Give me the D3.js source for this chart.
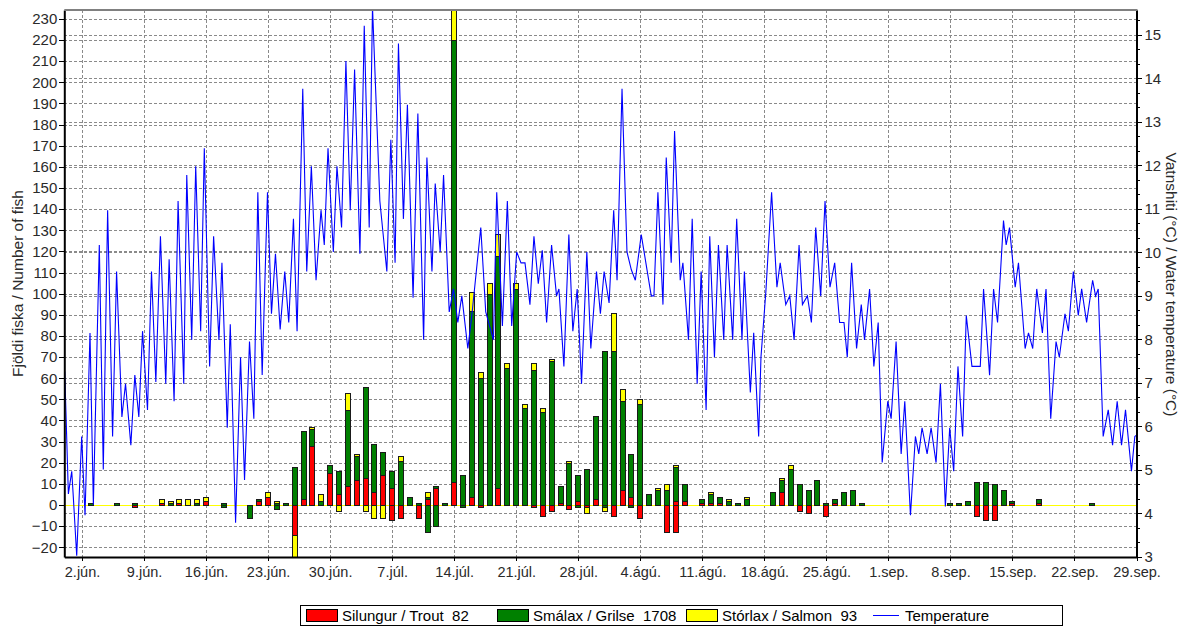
<!DOCTYPE html>
<html><head><meta charset="utf-8">
<script src="https://cdn.jsdelivr.net/npm/d3@7"></script>
<style>
body{margin:0;background:#fff;}
svg text{font-family:"Liberation Sans",Arial,sans-serif;}
</style>
</head><body>
<svg id="c" width="1193" height="627"></svg>
<script>
// ---------- DATA ----------
const barDates = ["06-03","06-06","06-08","06-11","06-12","06-13","06-14","06-15","06-16","06-18","06-21","06-22","06-23","06-24","06-25","06-26","06-27","06-28","06-29","06-30",
"07-01","07-02","07-03","07-04","07-05","07-06","07-07","07-08","07-09","07-10","07-11","07-12","07-13","07-14","07-15","07-16","07-17","07-18","07-19","07-20",
"07-21","07-22","07-23","07-24","07-25","07-26","07-27","07-28","07-29","07-30","07-31","08-01","08-02","08-03","08-04","08-05","08-06","08-07","08-08","08-09",
"08-11","08-12","08-13","08-14","08-15","08-16","08-19","08-20","08-21","08-22","08-23","08-24","08-25","08-26","08-27","08-28","08-29",
"09-08","09-09","09-10","09-11","09-12","09-13","09-14","09-15","09-18","09-24"];
// fish going up (positive)
const trout  = [0,0,0,1,0,1,0,0,2,0,0,2,4,0,0,0,3,28,0,15, 5,9,12,13,6,14,8,0,0,0,3,8,0,11,0,4,0,0,8,0, 0,0,0,0,0,1,0,2,0,3,0,0,7,4,0,0,0,0,2,2, 1,1,1,0,0,0,0,6,0,0,0,0,0,1,0,0,0, 0,0,0,0,0,0,0,1,1,0];
const grilse = [1,1,1,0,1,0,0,1,0,1,0,1,0,1,1,18,32,8,2,4, 11,36,11,43,23,11,8,21,4,1,1,1,1,209,14,88,60,100,110,65, 102,46,64,44,68,8,20,12,17,39,73,73,42,20,48,5,7,7,16,8, 2,4,3,2,1,3,6,6,17,10,7,12,1,2,6,7,1, 1,1,2,11,11,10,7,1,2,1];
const salmon = [0,0,0,2,1,2,3,2,2,0,0,0,2,1,0,0,0,1,3,0, 0,8,1,0,0,0,0,2,0,0,2,0,0,16,0,9,3,5,10,2, 3,2,3,2,1,0,1,0,0,0,0,18,6,0,2,0,1,3,1,0, 0,1,0,1,0,1,0,1,2,0,0,0,0,0,0,0,0, 0,0,0,0,0,0,0,0,0,0];
// fish going down (drawn below zero)
const troutDown  = [0,0,1,0,0,0,0,0,0,0,0,0,0,0,0,14,0,0,0,0, 0,0,0,0,0,0,7,6,0,6,0,0,0,0,0,0,1,0,0,0, 0,0,1,5,3,0,2,0,1,0,0,5,0,0,6,0,0,13,13,0, 0,0,0,0,0,0,0,0,0,3,4,0,5,0,0,0,0, 0,0,0,5,7,7,0,0,0,0];
const grilseDown = [0,0,0,0,0,0,0,0,0,1,6,0,0,2,0,0,0,0,0,0, 0,0,0,0,0,0,0,0,0,0,13,10,0,0,1,0,0,0,0,0, 0,0,0,0,0,0,0,1,0,0,1,0,0,1,0,0,0,0,0,0, 0,0,0,0,0,0,0,0,0,0,0,0,0,0,0,0,0, 0,0,0,0,0,0,0,0,0,0];
const salmonDown = [0,0,0,0,0,0,0,0,0,0,0,0,0,0,0,12,0,0,0,0, 3,0,0,3,6,6,0,0,0,0,0,0,0,0,0,0,0,0,0,0, 0,0,0,0,0,0,0,0,3,0,2,0,0,0,0,0,0,0,0,0, 0,0,0,0,0,0,0,0,0,0,0,0,0,0,0,0,0, 0,0,0,0,0,0,0,0,0,0];

// water temperature: days after 31 May 00:00, °C
const tempDay = [0.05,0.46,0.84,1.02,1.40,1.96,2.34,2.90,3.28,3.95,4.40,4.89,5.45,5.90,6.50,6.91,7.51,7.96,8.41,8.83,9.39,9.84,10.33,10.85,11.45,11.83,12.39,12.84,13.48,13.82,14.38,14.83,15.39,15.80,16.40,16.85,17.45,17.79,18.39,18.73,19.33,19.89,20.34,20.90,21.39,21.84,22.33,22.93,23.38,23.83,24.36,24.88,25.33,25.86,26.27,26.91,27.36,27.88,28.41,28.97,29.34,29.76,30.36,30.77,31.29,31.78,32.27,32.76,33.36,33.85,34.41,34.78,35.61,36.40,36.85,37.33,37.71,38.27,38.72,39.36,39.90,
40.55,40.92,41.49,41.86,42.42,42.80,43.44,43.92,44.41,44.86,45.54,45.99,47.00,47.56,48.43,48.80,49.44,50.00,50.49,51.05,51.54,51.99,52.55,53.00,53.49,53.94,54.43,54.99,55.55,55.82,56.38,56.94,57.39,57.88,58.37,58.97,59.42,60.06,60.50,60.92,61.48,62.00,62.38,62.94,63.50,63.99,64.44,65.11,66.24,66.54,66.99,67.56,67.93,68.49,68.87,69.51,69.81,70.44,70.86,71.42,71.87,72.43,72.84,73.37,73.82,74.42,74.80,75.43,75.88,76.48,76.75,77.42,77.80,78.36,78.62,79.18,79.82,80.42,
80.79,81.42,81.87,82.36,82.92,83.30,83.86,84.31,84.80,85.36,85.85,86.41,86.94,87.50,87.99,88.36,88.85,89.41,89.94,90.31,90.88,91.36,91.85,92.30,92.93,93.31,93.87,94.44,94.85,95.49,96.05,96.43,96.80,97.37,97.82,98.38,98.87,99.43,99.92,100.37,100.85,101.38,101.79,102.43,103.37,103.74,104.42,104.87,105.32,105.99,106.29,106.67,107.31,107.68,108.43,108.81,109.29,109.74,110.38,110.79,111.32,111.92,112.29,112.93,113.31,113.87,114.43,114.81,115.37,116.05,116.38,116.68,117.24,117.81,118.30,118.82,119.31,119.76,120.43,120.81,121.0];
const tempC = [7.26,4.45,4.97,4.37,3.03,5.77,3.96,8.15,4.20,10.17,5.01,10.97,5.77,9.56,6.22,6.98,5.57,7.18,6.22,8.19,6.38,9.56,7.02,10.37,6.98,9.84,6.58,11.18,6.98,11.78,7.99,11.98,8.19,12.39,7.38,10.37,7.99,9.76,5.97,8.35,3.79,7.59,4.77,7.95,6.18,11.38,7.18,11.38,8.59,9.97,8.23,9.56,8.39,10.77,8.19,13.76,9.56,11.98,9.36,10.97,10.17,12.39,10.01,11.98,10.57,14.40,10.97,14.20,9.97,15.21,10.57,15.65,11.18,9.56,12.59,9.76,14.80,10.77,13.39,8.96,13.19,
7.99,12.18,9.56,11.58,10.01,11.78,8.63,9.16,8.39,9.00,7.79,8.55,10.57,8.63,7.99,11.38,8.31,11.18,8.31,10.01,9.76,9.76,8.80,10.37,9.28,10.05,8.39,10.17,9.00,9.16,7.38,10.41,8.19,9.16,6.98,10.01,7.79,9.56,8.59,9.56,8.84,10.97,9.36,13.76,10.01,9.60,9.36,10.41,9.00,9.00,11.38,8.80,12.18,9.76,12.79,9.36,9.76,7.99,10.77,6.98,9.56,6.38,10.37,7.59,10.17,7.99,10.17,7.99,10.77,7.99,9.56,6.78,8.15,5.77,7.59,9.12,11.38,9.20,
9.76,8.80,9.00,7.99,10.17,8.80,9.00,8.39,10.57,9.00,11.18,9.20,9.76,8.39,8.39,7.59,9.76,7.79,8.80,7.99,9.16,7.38,8.39,5.17,6.58,6.18,7.95,5.37,6.58,3.96,5.77,5.37,5.97,5.37,5.97,5.17,6.98,4.16,5.97,4.97,7.38,5.77,8.55,7.38,7.38,9.16,7.18,9.16,8.39,10.73,10.17,10.57,9.20,9.76,7.79,8.15,7.79,9.16,8.15,9.16,6.18,7.95,7.59,8.59,8.19,9.56,8.55,9.16,8.39,9.36,9.00,9.16,5.77,6.38,5.57,6.58,5.57,6.38,4.97,5.77,5.80];

// axes
const countTicks = d3.range(-20, 231, 10);
const tempTicks = [3,4,5,6,7,8,9,10,11,12,13,14,15];
const xTickDates = ["06-02","06-09","06-16","06-23","06-30","07-07","07-14","07-21","07-28","08-04","08-11","08-18","08-25","09-01","09-08","09-15","09-22","09-29"];
const xTickLabels = ["2.jún.","9.jún.","16.jún.","23.jún.","30.jún.","7.júl.","14.júl.","21.júl.","28.júl.","4.ágú.","11.ágú.","18.ágú.","25.ágú.","1.sep.","8.sep.","15.sep.","22.sep.","29.sep."];
const seriesNames = ["Silungur / Trout  82","Smálax / Grilse  1708","Stórlax / Salmon  93","Temperature"];
const seriesColors = ["#ff0000","#008000","#ffff00","#0000ff"];

// ---------- CHART ----------
const svg = d3.select("#c");
const parse = d3.utcParse("%m-%d");
const start = parse("05-31"), end = parse("09-29");
const L = 64.3, R = 1136.5, T = 10, B = 557;
const x = d3.scaleUtc().domain([start, end]).range([L, R]);
const yL = d3.scaleLinear().domain([-24.6, 234.2]).range([B, T]);
const yR = d3.scaleLinear().domain([3, 15.57]).range([B, T]);
const dayToDate = d => new Date(start.getTime() + d * 864e5);

svg.append("defs").append("clipPath").attr("id","clip")
  .append("rect").attr("x",L).attr("y",T).attr("width",R-L).attr("height",B-T);

// grid
const grid = svg.append("g").attr("stroke","#8a8a8a").attr("stroke-dasharray","3,2").attr("shape-rendering","crispEdges");
countTicks.forEach(v => { const yy = Math.round(yL(v)) + 0.5;
  grid.append("line").attr("x1",L).attr("x2",R).attr("y1",yy).attr("y2",yy); });
tempTicks.filter(v=>v>3).forEach(v => { const yy = Math.round(yR(v)) + 0.5;
  grid.append("line").attr("x1",L).attr("x2",R).attr("y1",yy).attr("y2",yy); });
xTickDates.forEach(s => { const xx = Math.round(x(parse(s))) + 0.5;
  grid.append("line").attr("x1",xx).attr("x2",xx).attr("y1",T).attr("y2",B); });

const plot = svg.append("g").attr("clip-path","url(#clip)");
// zero line
plot.append("line").attr("x1",L).attr("x2",R).attr("y1",Math.round(yL(0))+0.5).attr("y2",Math.round(yL(0))+0.5)
  .attr("stroke","#ffff00").attr("stroke-width",1);

// bars
const segs = [];
barDates.forEach((s,i) => {
  const cx = Math.round(x(parse(s)));
  let base = 0;
  [[trout[i],0],[grilse[i],1],[salmon[i],2]].forEach(([v,c]) => {
    if (v > 0) { segs.push({cx, y0: base, y1: base + v, c}); base += v; }
  });
  base = 0;
  [[troutDown[i],0],[grilseDown[i],1],[salmonDown[i],2]].forEach(([v,c]) => {
    if (v > 0) { segs.push({cx, y0: base, y1: base - v, c}); base -= v; }
  });
});
plot.selectAll("rect.bar").data(segs).join("rect").attr("class","bar")
  .attr("x", d => d.cx - 2.5).attr("width", 5)
  .attr("y", d => Math.round(yL(Math.max(d.y0,d.y1))) + 0.5)
  .attr("height", d => Math.max(0.5, Math.round(yL(Math.min(d.y0,d.y1))) - Math.round(yL(Math.max(d.y0,d.y1)))))
  .attr("fill", d => seriesColors[d.c])
  .attr("stroke","#1a1a1a").attr("stroke-width",1).attr("shape-rendering","crispEdges");

// temperature line
const tempPts = tempDay.map((d,i) => [dayToDate(d), tempC[i]]);
plot.append("path").datum(tempPts)
  .attr("fill","none").attr("stroke","#0000ff").attr("stroke-width",1.1)
  .attr("d", d3.line().x(d => x(d[0])).y(d => yR(d[1])));

// axes
const fontCol = "#2a2a2a";
const axL = svg.append("g").attr("transform",`translate(${L},0)`)
  .call(d3.axisLeft(yL).tickValues(countTicks).tickSize(5).tickSizeOuter(0).tickPadding(2));
const axR = svg.append("g").attr("transform",`translate(${R},0)`)
  .call(d3.axisRight(yR).tickValues(tempTicks).tickSize(5).tickSizeOuter(0).tickPadding(3));
const axRm = svg.append("g").attr("transform",`translate(${R},0)`)
  .call(d3.axisRight(yR).tickValues(d3.range(3,15.6,1/3).filter(v=>Math.abs(v-Math.round(v))>0.01)).tickSize(3).tickFormat("").tickSizeOuter(0));
const axB = svg.append("g").attr("transform",`translate(0,${B})`)
  .call(d3.axisBottom(x).tickValues(xTickDates.map(parse)).tickFormat((d,i)=>xTickLabels[i]).tickSize(4).tickSizeOuter(0).tickPadding(6));
[axL,axR,axRm,axB].forEach(a => {
  a.selectAll("text").attr("font-size",15).attr("fill",fontCol).attr("font-family","'Liberation Sans',Arial,sans-serif");
  a.selectAll("line").attr("stroke","#000").attr("shape-rendering","crispEdges");
  a.select(".domain").attr("stroke","#000").attr("stroke-width",2);
});
axB.selectAll("text").attr("font-size",14.5);
axRm.select(".domain").remove();
// top border
svg.append("line").attr("x1",L).attr("x2",R+1).attr("y1",T).attr("y2",T).attr("stroke","#808080").attr("stroke-width",2);

// axis titles
svg.append("text").attr("transform",`translate(23,283.5) rotate(-90)`).attr("text-anchor","middle")
  .attr("font-size",15.5).attr("fill",fontCol).text("Fjöldi fiska / Number of fish");
svg.append("text").attr("transform",`translate(1166,284.5) rotate(90)`).attr("text-anchor","middle")
  .attr("font-size",15.5).attr("fill",fontCol).text("Vatnshiti (°C) / Water temperature (°C)");

// legend
const lg = svg.append("g");
lg.append("rect").attr("x",300.5).attr("y",605.5).attr("width",762).attr("height",20).attr("fill","#fff").attr("stroke","#000");
const lgX = [306, 497, 686, 873];
seriesNames.forEach((n,i) => {
  if (i < 3) {
    lg.append("rect").attr("x",lgX[i]+0.5).attr("y",609.5).attr("width",31).attr("height",12)
      .attr("fill",seriesColors[i]).attr("stroke","#000").attr("shape-rendering","crispEdges");
    lg.append("text").attr("x",lgX[i]+36).attr("y",621).attr("font-size",15).attr("fill","#000").attr("xml:space","preserve").text(n);
  } else {
    lg.append("line").attr("x1",lgX[i]).attr("x2",lgX[i]+26).attr("y1",615.5).attr("y2",615.5).attr("stroke",seriesColors[i]);
    lg.append("text").attr("x",lgX[i]+32).attr("y",621).attr("font-size",15).attr("fill","#000").text(n);
  }
});
</script>
</body></html>
